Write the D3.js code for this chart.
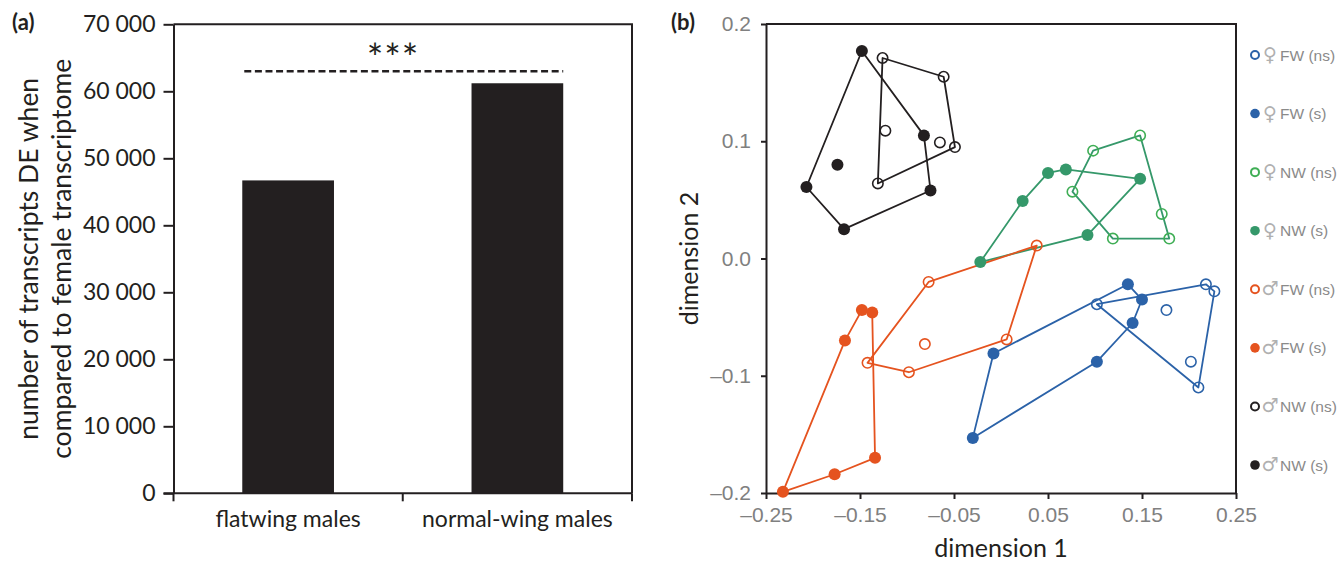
<!DOCTYPE html>
<html><head><meta charset="utf-8">
<script src="https://cdn.jsdelivr.net/npm/d3@7"></script>
<style>body{margin:0;background:#fff}svg{display:block}</style>
</head><body>
<svg id="chart" width="1340" height="563"></svg>
<script>
// ---------- Panel (a) data ----------
const barCategories = ["flatwing males", "normal-wing males"];
const barValues = [46700, 61200];
const sigLevel = 63000;
const sigLabel = "***";
const barTicks = [0, 10000, 20000, 30000, 40000, 50000, 60000, 70000];
const barYTitle = ["number of transcripts DE when", "compared to female transcriptome"];

// ---------- Panel (b) data (MDS dimension 1, dimension 2) ----------
const xTicksB = [-0.25, -0.15, -0.05, 0.05, 0.15, 0.25];
const yTicksB = [-0.2, -0.1, 0.0, 0.1, 0.2];
const groupSex = ["\u2640", "\u2640", "\u2640", "\u2640", "\u2642", "\u2642", "\u2642", "\u2642"];
const groupLabels = ["FW (ns)", "FW (s)", "NW (ns)", "NW (s)", "FW (ns)", "FW (s)", "NW (ns)", "NW (s)"];
const groupColors = ["#2b62a8", "#2b62a8", "#3fae55", "#35986a", "#e5531f", "#e5531f", "#231f20", "#231f20"];
const groupLineColors = ["#2b62a8", "#2b62a8", "#35986a", "#35986a", "#e5531f", "#e5531f", "#231f20", "#231f20"];
const groupFilled = [false, true, false, true, false, true, false, true];

const femFWns = [[0.102, -0.039], [0.218, -0.022], [0.227, -0.028], [0.210, -0.110], [0.176, -0.044], [0.202, -0.088]];
const femFWs  = [[0.135, -0.022], [0.150, -0.035], [0.140, -0.055], [0.102, -0.088], [-0.030, -0.153], [-0.008, -0.081]];
const femNWns = [[0.148, 0.105], [0.098, 0.092], [0.076, 0.057], [0.119, 0.017], [0.179, 0.017], [0.171, 0.038]];
const femNWs  = [[0.148, 0.068], [0.069, 0.076], [0.050, 0.073], [0.023, 0.049], [-0.022, -0.003], [0.092, 0.020]];
const malFWns = [[0.038, 0.011], [-0.077, -0.020], [-0.142, -0.089], [-0.098, -0.097], [0.006, -0.069], [-0.081, -0.073]];
const malFWs  = [[-0.148, -0.044], [-0.137, -0.046], [-0.134, -0.170], [-0.177, -0.184], [-0.232, -0.199], [-0.166, -0.070]];
const malNWns = [[-0.126, 0.171], [-0.061, 0.155], [-0.049, 0.095], [-0.131, 0.064], [-0.123, 0.109], [-0.065, 0.099]];
const malNWs  = [[-0.148, 0.177], [-0.082, 0.105], [-0.075, 0.058], [-0.167, 0.025], [-0.207, 0.061], [-0.174, 0.080]];
const groupPoints = [femFWns, femFWs, femNWns, femNWs, malFWns, malFWs, malNWns, malNWs];

const svg = d3.select("#chart");
const ink = "#231f20";
const fontA = "Lato, 'Open Sans', sans-serif";
const fontB = "'Liberation Sans', Arial, sans-serif";

// ================= Panel (a) =================
const A = {l: 173.5, r: 632, t: 24.3, b: 493.3};
const xA = d3.scaleBand().domain(barCategories).range([A.l, A.r]).paddingInner(0.6).paddingOuter(0.3);
const xAcat = d3.scaleBand().domain(barCategories).range([A.l, A.r]);
const yA = d3.scaleLinear().domain([0, 70000]).range([A.b, A.t]);
const gA = svg.append("g");

gA.selectAll("rect.bar").data(barValues).join("rect")
  .attr("class", "bar")
  .attr("x", (d, i) => xA(barCategories[i]))
  .attr("width", xA.bandwidth())
  .attr("y", d => yA(d))
  .attr("height", d => yA(0) - yA(d))
  .attr("fill", ink);

gA.append("path").attr("d", `M${A.l},${A.t}H${A.r}V${A.b}`).attr("fill", "none").attr("stroke", ink).attr("stroke-width", 2);

const fmtA = v => d3.format(",")(v).replace(/,/g, " ");
const yAxisA = gA.append("g").attr("transform", `translate(${A.l},0)`)
  .call(d3.axisLeft(yA).tickValues(barTicks).tickFormat(fmtA).tickSize(10).tickSizeOuter(0).tickPadding(8));
yAxisA.select(".domain").attr("stroke", ink).attr("stroke-width", 2);
yAxisA.selectAll(".tick line").attr("stroke", ink).attr("stroke-width", 2);
yAxisA.selectAll(".tick text").attr("fill", ink).style("font-family", fontA).style("font-size", "23px");

const xAxisA = gA.append("g").attr("transform", `translate(0,${A.b})`);
xAxisA.append("line").attr("x1", A.l - 10).attr("x2", A.r).attr("y1", 0).attr("y2", 0).attr("stroke", ink).attr("stroke-width", 2);
const boundaries = [A.l, xAcat(barCategories[1]), A.r];
xAxisA.selectAll("line.bt").data(boundaries).join("line").attr("class", "bt")
  .attr("x1", d => d).attr("x2", d => d).attr("y1", 0).attr("y2", 8).attr("stroke", ink).attr("stroke-width", 2);
xAxisA.selectAll("text").data(barCategories).join("text")
  .attr("x", d => xAcat(d) + xAcat.bandwidth() / 2).attr("y", 34)
  .attr("text-anchor", "middle").attr("fill", ink)
  .style("font-family", fontA).style("font-size", "23px").text(d => d);

gA.append("line")
  .attr("x1", xA(barCategories[0]) + 2).attr("x2", xA(barCategories[1]) + xA.bandwidth())
  .attr("y1", yA(sigLevel)).attr("y2", yA(sigLevel))
  .attr("stroke", ink).attr("stroke-width", 2.5).attr("stroke-dasharray", "7,3.6");
gA.append("text").attr("x", 393).attr("y", 72).attr("text-anchor", "middle")
  .attr("fill", ink).style("font-family", fontA).style("font-size", "39px").style("letter-spacing", "1px").text(sigLabel);

gA.selectAll("text.yt").data(barYTitle).join("text").attr("class", "yt")
  .attr("transform", (d, i) => `translate(${i === 0 ? 38 : 71},${(A.t + A.b) / 2}) rotate(-90)`)
  .attr("text-anchor", "middle").attr("fill", ink)
  .style("font-family", fontA).style("font-size", "26.5px").text(d => d);

gA.append("text").attr("x", 12).attr("y", 30).attr("fill", ink)
  .style("font-family", fontA).style("font-weight", "bold").style("font-size", "22px").text("(a)");

// ================= Panel (b) =================
const B = {l: 766, r: 1236, t: 24, b: 493};
const xB = d3.scaleLinear().domain([-0.25, 0.25]).range([B.l, B.r]);
const yB = d3.scaleLinear().domain([-0.2, 0.2]).range([B.b, B.t]);
const gB = svg.append("g");
const fmtMinus = f => v => d3.format(f)(v).replace("\u2212", "\u2013");

gB.append("path").attr("d", `M${B.l},${B.t}H${B.r}V${B.b}`).attr("fill", "none").attr("stroke", ink).attr("stroke-width", 2);

const xAxisB = gB.append("g").attr("transform", `translate(0,${B.b})`)
  .call(d3.axisBottom(xB).tickValues(xTicksB).tickFormat(fmtMinus(".2f")).tickSize(6).tickSizeOuter(0).tickPadding(8));
const yAxisB = gB.append("g").attr("transform", `translate(${B.l},0)`)
  .call(d3.axisLeft(yB).tickValues(yTicksB).tickFormat(fmtMinus(".1f")).tickSize(5).tickSizeOuter(0).tickPadding(10));
[xAxisB, yAxisB].forEach(ax => {
  ax.select(".domain").attr("stroke", ink).attr("stroke-width", 2);
  ax.selectAll(".tick line").attr("stroke", ink).attr("stroke-width", 2);
  ax.selectAll(".tick text").attr("fill", "#808080").style("font-family", fontB).style("font-size", "21px");
});

gB.append("text").attr("x", (B.l + B.r) / 2).attr("y", 557).attr("text-anchor", "middle")
  .attr("fill", ink).style("font-family", fontA).style("font-size", "25px").text("dimension 1");
gB.append("text").attr("transform", `translate(698,${(B.t + B.b) / 2}) rotate(-90)`).attr("text-anchor", "middle")
  .attr("fill", ink).style("font-family", fontA).style("font-size", "25px").text("dimension 2");
gB.append("text").attr("x", 671).attr("y", 30).attr("fill", ink)
  .style("font-family", fontA).style("font-weight", "bold").style("font-size", "22px").text("(b)");

groupPoints.forEach((pts, gi) => {
  const hull = d3.polygonHull(pts.map(p => [xB(p[0]), yB(p[1])]));
  gB.append("path").attr("d", "M" + hull.join("L") + "Z")
    .attr("fill", "none").attr("stroke", groupLineColors[gi]).attr("stroke-width", 1.8).attr("stroke-linejoin", "round");
});
groupPoints.forEach((pts, gi) => {
  gB.append("g").selectAll("circle").data(pts).join("circle")
    .attr("cx", d => xB(d[0])).attr("cy", d => yB(d[1]))
    .attr("r", groupFilled[gi] ? 6 : 5.2)
    .attr("fill", groupFilled[gi] ? groupColors[gi] : "none")
    .attr("stroke", groupFilled[gi] ? "none" : groupColors[gi])
    .attr("stroke-width", 1.6);
});

// legend
const legKeys = d3.range(groupLabels.length);
const legY = d3.scalePoint().domain(legKeys).range([55, 465]);
const leg = gB.append("g");
leg.selectAll("circle").data(legKeys).join("circle")
  .attr("cx", 1255).attr("cy", d => legY(d))
  .attr("r", d => groupFilled[d] ? 4.8 : 4)
  .attr("fill", d => groupFilled[d] ? groupColors[d] : "none")
  .attr("stroke", d => groupFilled[d] ? "none" : groupColors[d])
  .attr("stroke-width", 2);
leg.selectAll("text.sex").data(legKeys).join("text").attr("class", "sex")
  .attr("x", 1270).attr("y", d => legY(d) + 6).attr("text-anchor", "middle")
  .attr("fill", "#b0b0b0").style("font-family", "'DejaVu Sans', sans-serif").style("font-size", "19px")
  .text(d => groupSex[d]);
leg.selectAll("text.lab").data(legKeys).join("text").attr("class", "lab")
  .attr("x", 1280).attr("y", d => legY(d) + 5.5)
  .attr("fill", "#8a8a8a").style("font-family", fontB).style("font-size", "15.5px")
  .text(d => groupLabels[d]);
</script>
</body></html>
